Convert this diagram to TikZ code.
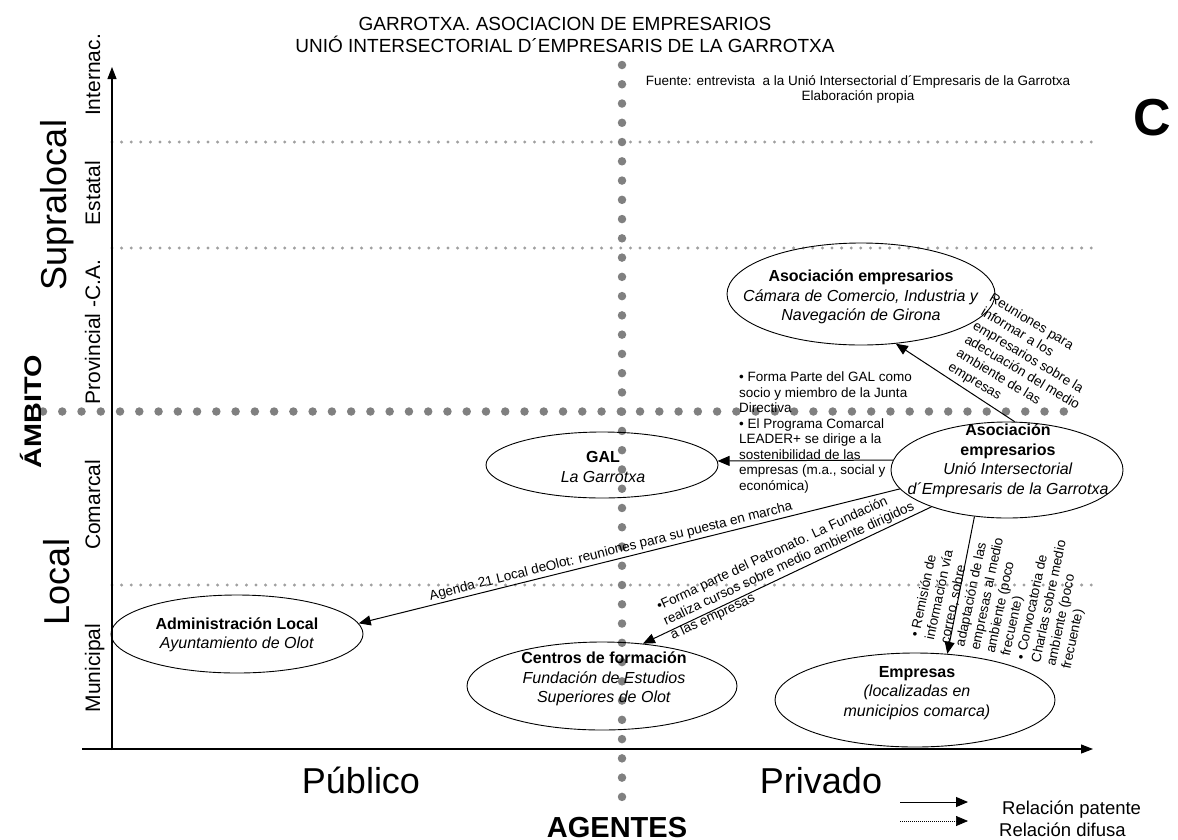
\documentclass[tikz,border=0pt]{standalone}
\usepackage{graphicx}
\usepackage{fontspec}
\setmainfont{Liberation Sans}
\usetikzlibrary{shapes.geometric,arrows.meta}
\newcommand{\myfs}[2]{\fontsize{#1}{#2}\selectfont}
\definecolor{dotgray}{HTML}{808080}
\definecolor{lightdot}{HTML}{A0A0A0}
\begin{document}
\begin{tikzpicture}[x=1pt,y=-1pt,
  bigdot/.style={draw=dotgray, line width=8.5pt, line cap=round, dash pattern=on 0pt off 19.26pt},
  smalldot/.style={draw=lightdot, line width=3.3pt, line cap=round, dash pattern=on 0pt off 9.6pt},
  ell/.style={draw, ellipse, line width=0.9pt, inner sep=0pt},
  arr/.style={draw, line width=1pt, -{Triangle[length=12pt,width=10pt]}},
  axisarrow/.style={draw, line width=1.1pt, -{Triangle[length=12pt,width=9pt]}},
  ellt/.style={align=center, font=\myfs{16}{19.5}, inner sep=0pt},
  lbl/.style={align=left, font=\myfs{13.5}{15.5}, inner sep=0pt},
  lblb/.style={align=left, font=\myfs{13.5}{16}, inner sep=0pt},
  axl/.style={rotate=90, anchor=base, font=\myfs{21}{25}, inner sep=0pt},
  biglbl/.style={rotate=90, anchor=base, font=\myfs{36}{40}, inner sep=0pt}
]
\useasboundingbox (0,0) rectangle (1178,839);

% guide lines
\draw[smalldot] (112,142) -- (1095,142);
\draw[smalldot] (112,248) -- (1095,248);
\draw[smalldot] (112,585) -- (1095,585);
\draw[bigdot] (43,411.5) -- (1083,411.5);
\draw[bigdot] (622,65) -- (622,797);

% axes
\coordinate (O) at (112,750);
\coordinate (ytip) at (112,67);
\coordinate (xs) at (82,749);
\coordinate (xtip) at (1093,749);
\draw[axisarrow] (O) -- (ytip);
\draw[axisarrow] (xs) -- (xtip);

% title and source
\node[align=center, font=\myfs{19}{22.5}, inner sep=0pt] (title) at (565,35)
  {GARROTXA. ASOCIACION DE EMPRESARIOS\\UNIÓ INTERSECTORIAL D´EMPRESARIS DE LA GARROTXA};
\node[align=center, font=\myfs{13.5}{15}, inner sep=0pt] (fuente) at (858,89)
  {Fuente: entrevista\ \ a la Unió Intersectorial d´Empresaris de la Garrotxa\\Elaboración propia};
\node[anchor=base west, font=\bfseries\myfs{52}{60}, inner sep=0pt] (bigC) at (1133,135) {C};

% left labels
\node[biglbl] (supra) at (66,205) {Supralocal};
\node[biglbl] (local) at (69,582) {Local};
\node[rotate=90, anchor=base, font=\bfseries\myfs{24}{28}, inner sep=0pt] (ambito) at (41,411.5) {\scalebox{1.2}[1]{ÁMBITO}};
\node[axl] (internac) at (100,75) {Internac.};
\node[axl] (estatal) at (100,193) {Estatal};
\node[axl] (provin) at (100,332) {Provincial -C.A.};
\node[axl] (comarcal) at (100,505) {Comarcal};
\node[axl] (municipal) at (100,668) {Municipal};

% bottom labels
\node[anchor=base, font=\myfs{36}{40}, inner sep=0pt] (publico) at (361,793) {Público};
\node[anchor=base, font=\myfs{36}{40}, inner sep=0pt] (privado) at (821,793) {Privado};
\node[anchor=base, font=\bfseries\myfs{29}{32}, inner sep=0pt] (agentes) at (617,837) {AGENTES};

% ellipses
\node[ell, minimum width=268pt, minimum height=102pt] (cam) at (861,294) {};
\node[ell, minimum width=232pt, minimum height=96pt] (unio) at (1007,470) {};
\node[ell, minimum width=232pt, minimum height=66pt] (gal) at (602,465) {};
\node[ell, minimum width=252pt, minimum height=78pt] (adm) at (237,634) {};
\node[ell, minimum width=270pt, minimum height=88pt] (cen) at (602,686) {};
\node[ell, minimum width=280pt, minimum height=94pt] (emp) at (915,700) {};

\node[ellt] (camT) at (861,297) {\textbf{Asociación empresarios}\\\textit{Cámara de Comercio, Industria y}\\\textit{Navegación de Girona}};
\node[ellt] (unioT) at (1008,461) {\textbf{Asociación}\\\textbf{empresarios}\\\textit{Unió Intersectorial}\\\textit{d´Empresaris de la Garrotxa}};
\node[ellt] (galT) at (603,467) {\textbf{GAL}\\\textit{La Garrotxa}};
\node[ellt] (admT) at (237,635) {\textbf{Administración Local}\\\textit{Ayuntamiento de Olot}};
\node[ellt] (cenT) at (604,679) {\textbf{Centros de formación}\\\textit{Fundación de Estudios}\\\textit{Superiores de Olot}};
\node[ellt] (empT) at (917,693) {\textbf{Empresas}\\\textit{(localizadas en}\\\textit{municipios comarca)}};

% connectors
\draw[arr] (unio.81) -- (cam.-55);
\draw[arr] (unio.175) -- (gal.2);
\draw[arr] (unio.190) -- node[sloped, above, pos=0.53, font=\myfs{13.5}{15}, inner sep=2pt] (agT)
  {Agenda 21 Local deOlot: reuniones para su puesta en marcha} (adm.5);
\draw[arr] (unio.206) -- (cen.46);
\draw[arr] (unio.235) -- (emp.55);

% connector labels
\node[lblb, rotate=-31] (reuT) at (1026,366)
  {Reuniones para\\informar a los\\empresarios sobre la\\adecuación del medio\\ambiente de las\\empresas};
\node[lbl, anchor=north west] (galL) at (739,372)
  {• Forma Parte del GAL como\\socio y miembro de la Junta\\Directiva\\• El Programa Comarcal\\LEADER+ se dirige a la\\sostenibilidad de las\\empresas (m.a., social y\\económica)};
\node[lblb, rotate=25] (funT) at (789,564)
  {•Forma parte del Patronato. La Fundación\\realiza cursos sobre medio ambiente dirigidos\\a las empresas};
\node[lbl, rotate=78] (empL) at (1004,592)
  {• Remisión de\\información vía\\correo, sobre\\adaptación de las\\empresas al medio\\ambiente (poco\\frecuente)\\• Convocatoria de\\Charlas sobre medio\\ambiente (poco\\frecuente)};

% legend
\coordinate (l1a) at (900,802);
\coordinate (l1b) at (968,802);
\coordinate (l2a) at (900,821);
\coordinate (l2b) at (968,821);
\draw[arr] (l1a) -- (l1b);
\draw[line width=0.7pt, dash pattern=on 1pt off 1pt, -{Triangle[length=12pt,width=10pt]}] (l2a) -- (l2b);
\node[anchor=base west, font=\myfs{18.5}{20}, inner sep=0pt] (leg1) at (1002,814) {Relación patente};
\node[anchor=base west, font=\myfs{18.5}{20}, inner sep=0pt] (leg2) at (999,836) {Relación difusa};
\end{tikzpicture}
\end{document}
